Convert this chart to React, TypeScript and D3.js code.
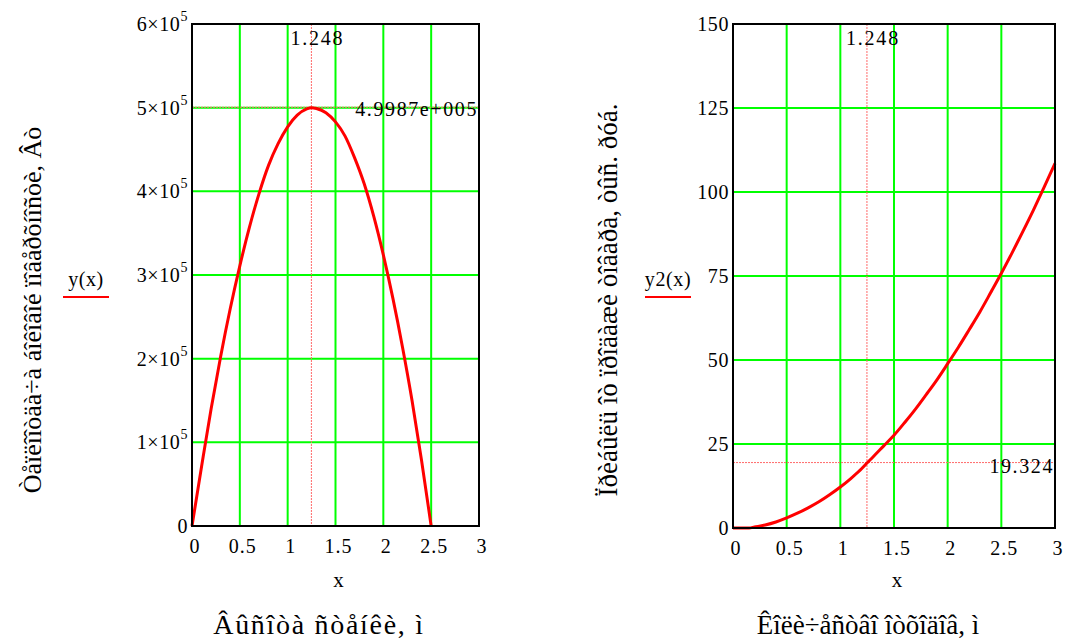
import React from "react";
import * as d3 from "d3";

const W = 1069;
const H = 642;
const FONT = "'Liberation Serif', 'Times New Roman', serif";

// left chart: heat flow vs wall height
const heightX = [0, 0.1, 0.2, 0.3, 0.4, 0.5, 0.6, 0.7, 0.8, 0.9, 1.0, 1.1, 1.2, 1.248, 1.3, 1.4, 1.5, 1.6, 1.7, 1.8, 1.9, 2.0, 2.1, 2.2, 2.3, 2.4, 2.5];
const heatFlow = [0, 71000, 140000, 203000, 260000, 311000, 357000, 397000, 431000, 457000, 477000, 491000, 498500, 499870, 499000, 494000, 483000, 466000, 440000, 409000, 370000, 324000, 272000, 214000, 150000, 78000, 0];
const heatTicks = [0, 1e5, 2e5, 3e5, 4e5, 5e5, 6e5];
const heatTickMant = ["0", "1", "2", "3", "4", "5", "6"];

// right chart: profit vs amount
const amountX = [0, 0.1, 0.15, 0.2, 0.3, 0.4, 0.5, 0.6, 0.7, 0.8, 0.9, 1.0, 1.1, 1.2, 1.248, 1.3, 1.4, 1.5, 1.6, 1.7, 1.8, 1.9, 2.0, 2.1, 2.2, 2.3, 2.4, 2.5, 2.6, 2.7, 2.8, 2.9, 3.0];
const profit = [0, 0, 0, 0.3, 0.9, 1.8, 3.0, 4.4, 6.0, 7.8, 9.9, 12.2, 14.8, 17.7, 19.324, 21.0, 24.3, 27.6, 31.4, 35.4, 39.7, 44.1, 48.9, 53.8, 59.0, 64.3, 70.0, 75.8, 81.9, 88.2, 94.7, 101.5, 108.5];
const profitTicks = [0, 25, 50, 75, 100, 125, 150];

const xTicks = [0, 0.5, 1, 1.5, 2, 2.5, 3];
const xTickLabels = ["0", "0.5", "1", "1.5", "2", "2.5", "3"];

const cursorX = 1.248;
const cursorY1 = 499870;
const cursorY2 = 19.324;

const leftBox = { x0: 192, x1: 479, top: 24, bottom: 526 };
const rightBox = { x0: 733, x1: 1055, top: 24, bottom: 528 };

function Panel({ box, xs, ys, yMax, yTicks, yLabel, tickLabel, legend, xTitle, cursorY, cursorLabel, cursorLabelY }) {
  const x = d3.scaleLinear().domain([0, 3]).range([box.x0, box.x1]);
  const y = d3.scaleLinear().domain([0, yMax]).range([box.bottom, box.top]);
  const line = d3
    .line()
    .x((d) => x(d[0]))
    .y((d) => y(d[1]))
    .curve(d3.curveMonotoneX);
  const pts = xs.map((v, i) => [v, ys[i]]);
  const cx = x(cursorX);
  const cy = y(cursorY);
  const midX = (box.x0 + box.x1) / 2;

  return (
    <g fontFamily={FONT} fill="#000">
      {/* grid */}
      {xTicks.slice(1, -1).map((t) => (
        <line key={"gx" + t} x1={x(t)} x2={x(t)} y1={box.top} y2={box.bottom} stroke="#00ff00" strokeWidth={2} />
      ))}
      {yTicks.slice(1, -1).map((t) => (
        <line key={"gy" + t} x1={box.x0} x2={box.x1} y1={y(t)} y2={y(t)} stroke="#00ff00" strokeWidth={2} />
      ))}

      {/* cursor lines */}
      <line x1={cx} x2={cx} y1={box.top} y2={box.bottom} stroke="#ff6a6a" strokeWidth={1} strokeDasharray="2,1" />
      <line x1={box.x0} x2={box.x1} y1={cy - 0.5} y2={cy - 0.5} stroke="#ff6a6a" strokeWidth={1} strokeDasharray="2,1" />

      {/* curve */}
      <path d={line(pts)} fill="none" stroke="#ff0000" strokeWidth={3} />

      {/* frame */}
      <rect x={box.x0} y={box.top} width={box.x1 - box.x0} height={box.bottom - box.top} fill="none" stroke="#000" strokeWidth={2} />

      {/* cursor labels */}
      <text x={cx + 6} y={45} fontSize={20} textAnchor="middle" letterSpacing={1.8}>1.248</text>
      <text x={box.x1 - 1} y={cursorLabelY} fontSize={20} textAnchor="end" letterSpacing={1.6}>{cursorLabel}</text>

      {/* x ticks */}
      {xTicks.map((t, i) => (
        <text key={"xt" + t} x={x(t) + 3} y={box.bottom + 27} fontSize={20} textAnchor="middle" letterSpacing={1}>
          {xTickLabels[i]}
        </text>
      ))}

      {/* y ticks */}
      {yTicks.map((t, i) => (
        <text key={"yt" + t} x={box.x0 - 4} y={y(t) + 7} fontSize={20} textAnchor="end" letterSpacing={0.6}>
          {tickLabel(t, i)}
        </text>
      ))}

      {/* legend */}
      <text x={legend.x} y={286} fontSize={20} textAnchor="middle" letterSpacing={0.6}>{legend.text}</text>
      <line x1={legend.x - 23} x2={legend.x + 23} y1={297} y2={297} stroke="#ff0000" strokeWidth={2} />

      {/* titles */}
      <text x={midX + 3} y={587} fontSize={21} textAnchor="middle">x</text>
      <text x={xTitle.x} y={634} fontSize={xTitle.size} textAnchor="middle" letterSpacing={xTitle.ls}>
        {xTitle.text}
      </text>
      <text transform={`translate(${yLabel.x},${yLabel.y}) rotate(-90)`} fontSize={yLabel.size} textAnchor="middle">
        {yLabel.text}
      </text>
    </g>
  );
}

export default function App() {
  return (
    <svg width={W} height={H} style={{ position: "absolute", left: 0, top: 0, background: "#fff" }}>
      <Panel
        box={leftBox}
        xs={heightX}
        ys={heatFlow}
        yMax={6e5}
        yTicks={heatTicks}
        tickLabel={(t, i) =>
          t === 0 ? (
            "0"
          ) : (
            <>
              <tspan>{heatTickMant[i] + "\u00d710"}</tspan>
              <tspan dy={-10} fontSize={14}>5</tspan>
            </>
          )
        }
        legend={{ x: 86, text: "y(x)" }}
        xTitle={{ x: 319, size: 28, ls: 1.7, text: "\u00c2\u00fb\u00f1\u00ee\u00f2\u00e0 \u00f1\u00f2\u00e5\u00ed\u00ea\u00e8, \u00ec" }}
        yLabel={{ x: 41, y: 310, size: 26, text: "\u00d2\u00e5\u00ef\u00eb\u00ee\u00ee\u00f2\u00e4\u00e0\u00f7\u00e0 \u00e1\u00ee\u00ea\u00ee\u00e2\u00ee\u00e9 \u00ef\u00ee\u00e2\u00e5\u00f0\u00f5\u00ed\u00ee\u00f1\u00f2\u00e8, \u00c2\u00f2" }}
        cursorY={cursorY1}
        cursorLabel="4.9987e+005"
        cursorLabelY={116}
      />
      <Panel
        box={rightBox}
        xs={amountX}
        ys={profit}
        yMax={150}
        yTicks={profitTicks}
        tickLabel={(t) => String(t)}
        legend={{ x: 668, text: "y2(x)" }}
        xTitle={{ x: 868, size: 27, ls: 0, text: "\u00ca\u00ee\u00eb\u00e8\u00f7\u00e5\u00f1\u00f2\u00e2\u00ee \u00ee\u00f2\u00f5\u00ee\u00e4\u00ee\u00e2, \u00ec" }}
        yLabel={{ x: 617, y: 300, size: 27, text: "\u00cf\u00f0\u00e8\u00e1\u00fb\u00eb\u00fc \u00ee\u00f2 \u00ef\u00f0\u00ee\u00e4\u00e0\u00e6\u00e8 \u00f2\u00ee\u00e2\u00e0\u00f0\u00e0, \u00f2\u00fb\u00f1. \u00f0\u00f3\u00e1." }}
        cursorY={cursorY2}
        cursorLabel="19.324"
        cursorLabelY={473}
      />
    </svg>
  );
}
